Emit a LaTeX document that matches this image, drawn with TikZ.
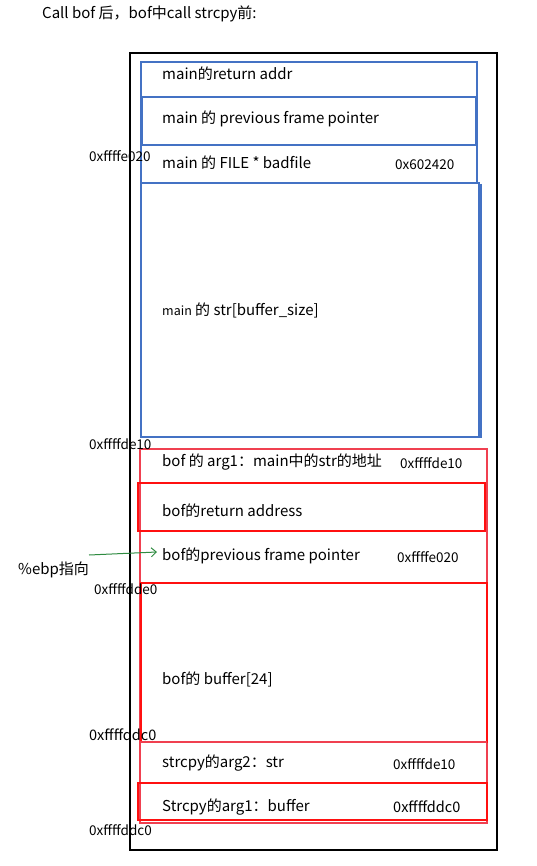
\documentclass[tikz,border=0pt]{standalone}
\usepackage{fontspec}
\setmainfont{Noto Sans CJK SC}
\usetikzlibrary{arrows.meta}
\definecolor{bl}{HTML}{4472C4}
\definecolor{rd}{HTML}{FF1010}
\definecolor{rdl}{HTML}{F04050}
\definecolor{gr}{HTML}{2E8B40}
\tikzset{
  lbl/.style={anchor=west,inner sep=0pt,font=\fontsize{15}{17}\selectfont},
  addr/.style={anchor=west,inner sep=0pt,font=\fontsize{13.5}{15}\selectfont},
  baddr/.style={anchor=west,inner sep=0pt,font=\fontsize{14.5}{16}\selectfont},
  bbox/.style={draw=bl,line width=1.3pt},
  rbox/.style={draw=rd,line width=1.3pt},
  rlbox/.style={draw=rdl,line width=1.3pt},
}
\begin{document}
\begin{tikzpicture}[x=1pt,y=-1pt]
\useasboundingbox (0,0) rectangle (536,866);
% outer frame
\draw[line width=1.3pt,black] (130,53) rectangle (497,850);
% blue boxes
\draw[bbox] (141,62) rectangle (477,183);
\draw[bbox] (142,97) rectangle (476,145);
\draw[bbox] (141,183) rectangle (479,437);
\draw[draw=bl,line width=1.3pt] (481,184) -- (481,438);
% red boxes
\draw[rlbox] (140,449) rectangle (487,823);
\draw[rbox] (138,483) rectangle (485,531);
\draw[rbox] (141,583) rectangle (487,742);
\draw[rlbox] (140,742) -- (487,742);
\draw[rbox] (138,783) rectangle (487,820);
% title
\node[lbl] (title) at (42,14) {Call bof 后，bof中call strcpy前:};
% blue labels
\node[lbl] (t1) at (162,74) {main的return addr};
\node[lbl] (t2) at (162,119) {main 的 previous frame pointer};
\node[lbl] (t3) at (162,163) {main 的 FILE * badfile};
\node[addr] (a3) at (395,165) {0x602420};
\node[lbl] (t4) at (162,310) {{\fontsize{12.5}{14}\selectfont main} 的 str[buffer\_size]};
% left addresses
\node[addr] (l1) at (89,156) {0xffffe020};
\node[addr] (l2) at (89,444) {0xffffde10};
\node[addr] (l3) at (94,589) {0xffffdde0};
\node[baddr] (l4) at (89,735) {0xffffddc0};
\node[addr] (l5) at (89,830) {0xffffddc0};
% red labels
\node[lbl] (r1) at (162,462) {bof 的 arg1：main中的str的地址};
\node[addr] (ra1) at (400,463) {0xffffde10};
\node[lbl] (r2) at (162,511) {bof的return address};
\node[lbl] (r3) at (162,556) {bof的previous frame pointer};
\node[addr] (ra3) at (397,557) {0xffffe020};
\node[lbl] (r4) at (162,679) {bof的 buffer[24]};
\node[lbl] (r5) at (162,763) {strcpy的arg2：str};
\node[addr] (ra5) at (393,764) {0xffffde10};
\node[lbl] (r6) at (162,807) {Strcpy的arg1：buffer};
\node[baddr] (ra6) at (393,807) {0xffffddc0};
% ebp
\node[lbl] (ebp) at (18,570) {\%ebp指向};
\coordinate (as) at (89,555);
\coordinate (ae) at (157,552);
\draw[gr,line width=1pt,-{Straight Barb[length=5pt,width=9pt]}] (as) -- (ae);
\end{tikzpicture}
\end{document}
